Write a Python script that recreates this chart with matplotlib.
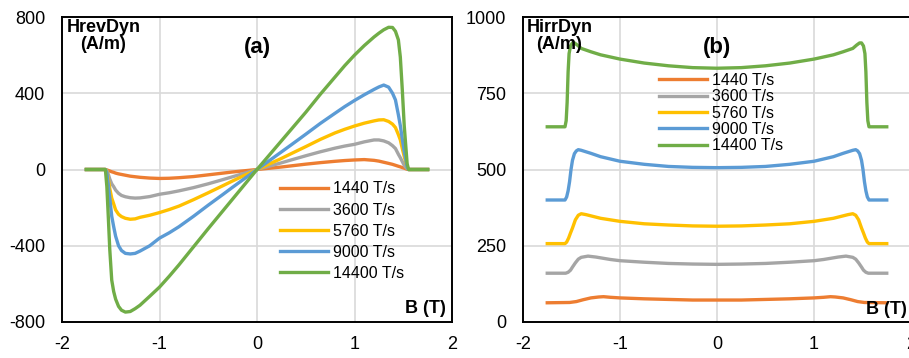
import matplotlib
matplotlib.use('Agg')
import matplotlib.pyplot as plt

plt.rcParams['font.family'] = ['Liberation Sans', 'DejaVu Sans']
plt.rcParams['axes.unicode_minus'] = False

labels = ['1440 T/s', '3600 T/s', '5760 T/s', '9000 T/s', '14400 T/s']
colors = ['#ED7D31', '#A5A5A5', '#FFC000', '#5B9BD5', '#70AD47']

# (a) reversible dynamic field, shared B grid
b_rev = [-1.75, -1.555, -1.54, -1.525, -1.51, -1.49, -1.47, -1.45, -1.42, -1.39, -1.35,
         -1.3, -1.25, -1.2, -1.1, -1.0, -0.9, -0.8, -0.65, -0.5, -0.35, -0.25,
         0.0,
         0.25, 0.35, 0.5, 0.65, 0.8, 0.9, 1.0, 1.1, 1.2, 1.25, 1.3,
         1.35, 1.39, 1.42, 1.45, 1.47, 1.49, 1.51, 1.525, 1.54, 1.555, 1.75]
hrev_1440 = [0, 0, -2, -5, -8, -12, -15, -19, -23, -26, -30,
             -35, -38, -41, -45, -47, -46, -43, -37, -28, -19, -13,
             0,
             13, 19, 28, 36, 43, 47, 50, 52, 48, 44, 38,
             32, 27, 22, 17, 14, 10, 7, 4, 1, 0, 0]
hrev_3600 = [0, 0, -5, -25, -50, -75, -90, -108, -125, -136, -143,
             -148, -150, -149, -142, -130, -122, -112, -95, -75, -53, -38,
             0,
             35, 50, 72, 93, 112, 123, 132, 145, 155, 155, 150,
             140, 125, 110, 80, 62, 42, 22, 12, 4, 0, 0]
hrev_5760 = [0, 0, -10, -50, -100, -150, -180, -212, -235, -247, -256,
             -261, -259, -251, -240, -226, -210, -192, -158, -122, -85, -60,
             0,
             58, 83, 120, 158, 192, 211, 228, 243, 255, 260, 261,
             252, 238, 220, 183, 155, 110, 68, 40, 12, 0, 0]
hrev_9000 = [0, 0, -15, -80, -150, -245, -300, -350, -400, -425, -440,
             -443, -440, -428, -400, -360, -332, -300, -245, -187, -131, -93,
             0,
             92, 129, 185, 242, 295, 330, 362, 392, 420, 433, 443,
             432, 400, 365, 287, 230, 160, 95, 55, 10, 0, 0]
hrev_14400 = [0, 0, -90, -250, -420, -580, -640, -680, -718, -738, -748,
              -745, -730, -712, -665, -617, -560, -500, -405, -310, -217, -155,
              0,
              150, 210, 300, 395, 485, 545, 600, 650, 695, 715, 733,
              746, 745, 725, 680, 590, 420, 230, 130, 30, 0, 0]

# (b) irreversible dynamic field
b_irr_1440 = [-1.75, -1.52, -1.45, -1.38, -1.3, -1.22, -1.17, -1.1, -1.0, -0.75, -0.5, -0.25, 0,
              0.25, 0.5, 0.75, 1.0, 1.1, 1.17, 1.22, 1.3, 1.38, 1.45, 1.52, 1.75]
hirr_1440 = [63, 64, 67, 73, 79, 82, 83, 81, 79, 76, 74, 72, 72,
             72, 74, 76, 79, 81, 83, 82, 79, 73, 67, 64, 63]
b_irr_3600 = [-1.75, -1.56, -1.535, -1.51, -1.49, -1.46, -1.43, -1.4, -1.33, -1.25, -1.1, -1.0,
              -0.75, -0.5, -0.25, 0, 0.25, 0.5, 0.75, 1.0, 1.1, 1.25, 1.33, 1.4,
              1.43, 1.46, 1.49, 1.51, 1.535, 1.56, 1.75]
hirr_3600 = [160, 160, 163, 170, 180, 194, 206, 212, 216, 213, 205, 201,
             196, 192, 190, 189, 190, 192, 196, 201, 205, 213, 216, 212,
             206, 194, 180, 170, 163, 160, 160]
b_irr_5760 = [-1.75, -1.567, -1.55, -1.53, -1.51, -1.49, -1.46, -1.43, -1.4, -1.35, -1.2,
              -1.0, -0.75, -0.5, -0.25, 0, 0.25, 0.5, 0.75, 1.0, 1.2, 1.35, 1.4,
              1.43, 1.46, 1.49, 1.51, 1.53, 1.55, 1.567, 1.75]
hirr_5760 = [257, 257, 262, 275, 292, 308, 335, 350, 355, 352, 340,
             330, 322, 318, 315, 314, 315, 318, 322, 330, 340, 352, 355,
             350, 335, 308, 292, 275, 262, 257, 257]
b_irr_9000 = [-1.75, -1.567, -1.55, -1.535, -1.52, -1.505, -1.49, -1.47, -1.45, -1.43, -1.4,
              -1.3, -1.2, -1.0, -0.75, -0.5, -0.25, 0, 0.25, 0.5, 0.75, 1.0, 1.2, 1.3,
              1.4, 1.43, 1.45, 1.47, 1.49, 1.505, 1.52, 1.535, 1.55, 1.567, 1.75]
hirr_9000 = [400, 400, 410, 430, 460, 500, 530, 552, 561, 565, 563,
             553, 542, 527, 517, 510, 507, 506, 507, 510, 517, 527, 542, 553,
             563, 565, 561, 552, 530, 500, 460, 430, 410, 400, 400]
b_irr_14400 = [-1.75, -1.567, -1.555, -1.545, -1.535, -1.525, -1.51, -1.49, -1.47, -1.44, -1.4,
               -1.3, -1.2, -1.0, -0.75, -0.5, -0.25, 0, 0.25, 0.5, 0.75, 1.0, 1.2, 1.3,
               1.4, 1.44, 1.47, 1.49, 1.51, 1.525, 1.535, 1.545, 1.555, 1.567, 1.75]
hirr_14400 = [640, 640, 660, 720, 820, 880, 905, 915, 915, 908, 897,
              886, 876, 862, 849, 840, 834, 832, 834, 840, 849, 862, 876, 886,
              897, 908, 915, 915, 905, 880, 820, 720, 660, 640, 640]

hrev_series = [hrev_1440, hrev_3600, hrev_5760, hrev_9000, hrev_14400]
irr_b = [b_irr_1440, b_irr_3600, b_irr_5760, b_irr_9000, b_irr_14400]
irr_series = [hirr_1440, hirr_3600, hirr_5760, hirr_9000, hirr_14400]

fig = plt.figure(figsize=(9.09, 3.58), dpi=100)
ax1 = fig.add_axes([62 / 909, 36 / 358, 390 / 909, 305 / 358])
ax2 = fig.add_axes([523 / 909, 36 / 358, 388 / 909, 305 / 358])


def style_axes(ax, yticks):
    ax.set_xlim(-2, 2)
    ax.set_xticks([-2, -1, 0, 1, 2])
    ax.set_ylim(yticks[0], yticks[-1])
    ax.set_yticks(yticks)
    ax.grid(True, color='#D9D9D9', linewidth=1.2)
    ax.set_axisbelow(True)
    ax.tick_params(axis='both', length=0, labelsize=13)
    ax.tick_params(axis='x', pad=10)
    ax.tick_params(axis='y', pad=12)
    for s in ax.spines.values():
        s.set_linewidth(1.4)
        s.set_color('black')


for h, lab, c in zip(hrev_series, labels, colors):
    ax1.plot(b_rev, h, color=c, linewidth=2.4, label=lab)
style_axes(ax1, [-800, -400, 0, 400, 800])
ax1.legend(loc='center left', bbox_to_anchor=(0.559, 0.298), frameon=False,
           fontsize=11.5, handlelength=3.0, handletextpad=0.3, labelspacing=0.38,
           borderpad=0, borderaxespad=0)
ax1.text(0.106, 0.995, 'HrevDyn\n(A/m)', transform=ax1.transAxes, ha='center', va='top',
         fontsize=13, fontweight='bold', linespacing=1.05)
ax1.text(0.5, 0.90, '(a)', transform=ax1.transAxes, ha='center', va='center',
         fontsize=16, fontweight='bold')
ax1.text(0.985, 0.03, 'B (T)', transform=ax1.transAxes, ha='right', va='baseline',
         fontsize=13, fontweight='bold')

for b, h, lab, c in zip(irr_b, irr_series, labels, colors):
    ax2.plot(b, h, color=c, linewidth=2.4, label=lab)
style_axes(ax2, [0, 250, 500, 750, 1000])
ax2.legend(loc='center left', bbox_to_anchor=(0.3505, 0.685), frameon=False,
           fontsize=11.5, handlelength=3.0, handletextpad=0.3, labelspacing=0.09,
           borderpad=0, borderaxespad=0)
ax2.text(0.094, 0.995, 'HirrDyn\n(A/m)', transform=ax2.transAxes, ha='center', va='top',
         fontsize=13, fontweight='bold', linespacing=1.05)
ax2.text(0.5, 0.90, '(b)', transform=ax2.transAxes, ha='center', va='center',
         fontsize=16, fontweight='bold')
ax2.text(0.99, 0.025, 'B (T)', transform=ax2.transAxes, ha='right', va='baseline',
         fontsize=13, fontweight='bold')

fig.savefig('out.png', dpi=100)
